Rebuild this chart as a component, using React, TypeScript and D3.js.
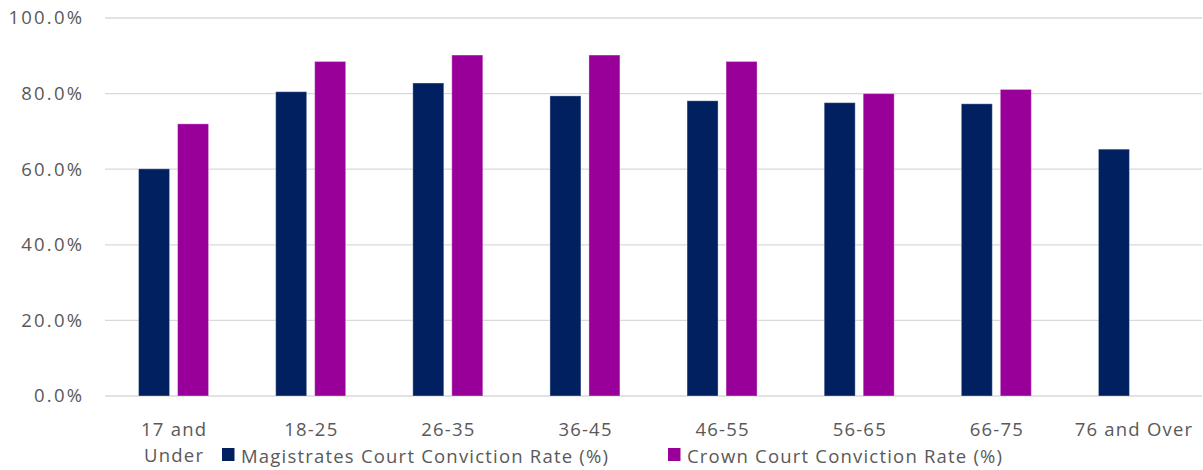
import React from "react";
import * as d3 from "d3";

const categories = [
  "17 and Under",
  "18-25",
  "26-35",
  "36-45",
  "46-55",
  "56-65",
  "66-75",
  "76 and Over",
];
// wrapped the way Excel printed them
const categoryLines = [
  ["17 and", "Under"],
  ["18-25"],
  ["26-35"],
  ["36-45"],
  ["46-55"],
  ["56-65"],
  ["66-75"],
  ["76 and Over"],
];
const magistrates = [60.1, 80.5, 82.8, 79.4, 78.1, 77.6, 77.3, 65.3];
const crown = [72.0, 88.5, 90.2, 90.2, 88.5, 80.0, 81.1, null];
const seriesNames = [
  "Magistrates Court Conviction Rate (%)",
  "Crown Court Conviction Rate (%)",
];
const seriesColors = ["#002060", "#990099"];
const yTicks = [0, 20, 40, 60, 80, 100];

const W = 1203;
const H = 470;
const margin = { top: 18, right: 1, bottom: 74, left: 105 };
const font = "'Open Sans', sans-serif";
const textColor = "#595959";
const fs = 18.5;
const ls = 1.2;

export default function App() {
  const innerW = W - margin.left - margin.right;
  const innerH = H - margin.top - margin.bottom;

  const x0 = d3.scaleBand().domain(categories).range([0, innerW]);
  const x1 = d3
    .scaleBand()
    .domain(seriesNames)
    .range([-35, 35])
    .paddingInner(0.205);
  const y = d3.scaleLinear().domain([0, 100]).range([innerH, 0]);
  const fmt = (d: number) => d.toFixed(1) + "%";

  const rows = categories.map((c, i) => ({
    cat: c,
    vals: [magistrates[i], crown[i]],
  }));

  return (
    <svg
      width={W}
      height={H}
      style={{ position: "absolute", left: 0, top: 0, background: "#fff" }}
      fontFamily={font}
      letterSpacing={ls}
    >
      <g transform={`translate(${margin.left},${margin.top})`}>
        {/* ===== grid ===== */}
        {yTicks.map(t => (
          <line
            key={t}
            x1={0}
            x2={innerW}
            y1={y(t)}
            y2={y(t)}
            stroke="#d9d9d9"
            strokeWidth={1.3}
          />
        ))}
        {yTicks.map(t => (
          <text
            key={"l" + t}
            x={-23 + 2.2}
            y={y(t)}
            dy="0.35em"
            textAnchor="end"
            fontSize={fs}
            letterSpacing={2.2}
            fill={textColor}
          >
            {fmt(t)}
          </text>
        ))}

        {/* ===== bars ===== */}
        {rows.map(r => {
          const cx = (x0(r.cat) as number) + x0.bandwidth() / 2;
          return (
            <g key={r.cat} transform={`translate(${cx},0)`}>
              {r.vals.map((v, j) =>
                v == null ? null : (
                  <rect
                    key={j}
                    x={x1(seriesNames[j]) as number}
                    y={y(v)}
                    width={x1.bandwidth()}
                    height={y(0) - y(v)}
                    fill={seriesColors[j]}
                    stroke="#ffffff"
                    strokeOpacity={0.35}
                    strokeWidth={1}
                  />
                )
              )}
            </g>
          );
        })}

        {/* ===== category labels ===== */}
        {categories.map((c, i) => {
          const cx = (x0(c) as number) + x0.bandwidth() / 2 + ls / 2;
          return (
            <text
              key={c}
              x={cx}
              y={innerH + 40}
              textAnchor="middle"
              fontSize={fs}
              fill={textColor}
            >
              {categoryLines[i].map((ln, k) => (
                <tspan key={k} x={cx} dy={k === 0 ? 0 : 26}>
                  {ln}
                </tspan>
              ))}
            </text>
          );
        })}
      </g>

      {/* ===== legend ===== */}
      {seriesNames.map((s, i) => {
        const lx = i === 0 ? 222 : 668;
        return (
          <g key={s} transform={`translate(${lx},448)`}>
            <rect width={12.5} height={13} fill={seriesColors[i]} />
            <text x={19} y={14.5} fontSize={fs} fill={textColor}>
              {s}
            </text>
          </g>
        );
      })}
    </svg>
  );
}
